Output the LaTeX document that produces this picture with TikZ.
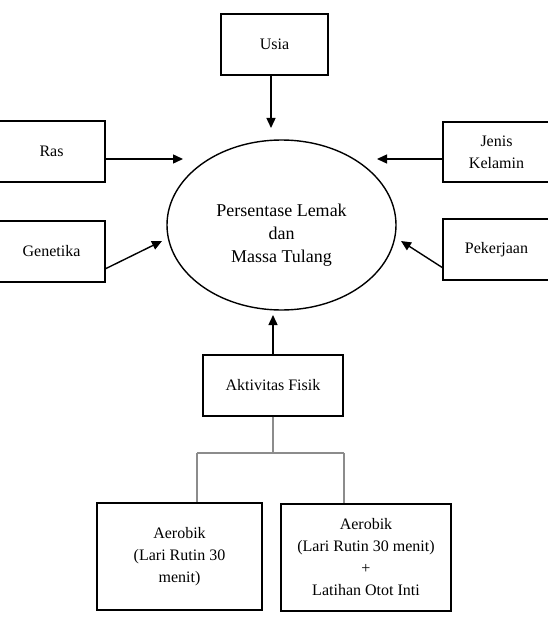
\documentclass[tikz,border=0pt]{standalone}
\usepackage{fontspec}
\setmainfont{Liberation Serif}
\usetikzlibrary{arrows.meta,shapes.geometric}
\begin{document}
\begin{tikzpicture}[x=1pt,y=-1pt,
  box/.style={draw=black,line width=1.4pt,rectangle,inner sep=0pt,align=center,
    font=\fontsize{16}{22}\selectfont},
  arr/.style={line width=1.4pt,-{Triangle[length=10pt,width=9pt]}},
  tree/.style={draw=black!45,line width=1.4pt}]
\useasboundingbox (0,0) rectangle (547,628);
% boxes
\node[box,minimum width=107pt,minimum height=61pt] (usia) at (274.5,44.5) {Usia};
\node[box,minimum width=107pt,minimum height=61pt] (ras) at (51.5,151.5) {Ras};
\node[box,minimum width=107pt,minimum height=60pt] (jenis) at (496.5,152) {Jenis\\Kelamin};
\node[box,minimum width=107pt,minimum height=61pt] (gen) at (51.5,251.5) {Genetika};
\node[box,minimum width=107pt,minimum height=61pt] (pek) at (496.5,249.5) {Pekerjaan};
\node[box,minimum width=140pt,minimum height=61pt] (akt) at (273,385.5) {Aktivitas Fisik};
\node[box,minimum width=165pt,minimum height=107pt] (aer1) at (179.5,556.5) {Aerobik\\(Lari Rutin 30\\menit)};
\node[box,minimum width=170pt,minimum height=107pt] (aer2) at (366,557.5) {Aerobik\\(Lari Rutin 30 menit)\\+\\Latihan Otot Inti};
% ellipse
\node[draw=black,line width=1.4pt,ellipse,minimum width=229pt,minimum height=170pt,inner sep=0pt] (ell) at (281.5,225) {};
\node[align=center,inner sep=0pt,font=\fontsize{18}{23}\selectfont] (etext) at (281.5,235) {Persentase Lemak\\dan\\Massa Tulang};
% arrow end points
\coordinate (tUsia) at (271,128);
\coordinate (tRas) at (183,159);
\coordinate (tJenis) at (377,159);
\coordinate (tGen) at (162,241);
\coordinate (tPek) at (401,241);
\coordinate (tAkt) at (273,315);
\coordinate (sUsia) at (271,75);
\coordinate (sRas) at (105,159);
\coordinate (sJenis) at (443,159);
\coordinate (sGen) at (105,269);
\coordinate (sPek) at (443,268);
\coordinate (sAkt) at (273,355);
\draw[arr] (sUsia) -- (tUsia);
\draw[arr] (sRas) -- (tRas);
\draw[arr] (sJenis) -- (tJenis);
\draw[arr] (sGen) -- (tGen);
\draw[arr] (sPek) -- (tPek);
\draw[arr] (sAkt) -- (tAkt);
% tree
\coordinate (tj) at (273,453);
\coordinate (bl) at (197,453);
\coordinate (br) at (344,453);
\draw[tree] (akt.south -| tj) -- (tj);
\draw[tree] (bl) -- (br);
\draw[tree] (bl) -- (bl |- aer1.north);
\draw[tree] (br) -- (br |- aer2.north);
\end{tikzpicture}
\end{document}
